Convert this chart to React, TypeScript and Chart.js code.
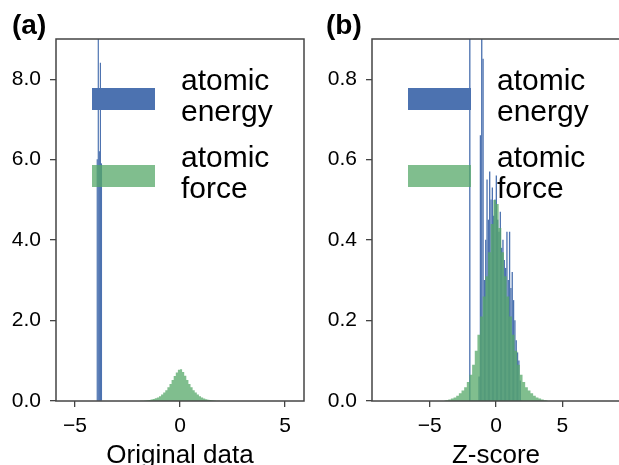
import React, { useEffect, useRef } from 'react';
import { Chart, registerables } from 'chart.js';

Chart.register(...registerables);

// ---------------- Data ----------------
// Panel (a): original data
const energyBinsA = [-3.925, -3.875, -3.825, -3.775, -3.725];
const energyDensityA = [6.0, 9.6, 6.2, 8.4, 5.9];

const forceBinsA = [
  -1.95, -1.85, -1.75, -1.65, -1.55, -1.45, -1.35, -1.25, -1.15, -1.05,
  -0.95, -0.85, -0.75, -0.65, -0.55, -0.45, -0.35, -0.25, -0.15, -0.05,
  0.05, 0.15, 0.25, 0.35, 0.45, 0.55, 0.65, 0.75, 0.85, 0.95,
  1.05, 1.15, 1.25, 1.35, 1.45, 1.55, 1.65, 1.75, 1.85, 1.95,
];
const forceDensityA = [
  0.002, 0.004, 0.007, 0.011, 0.017, 0.025, 0.035, 0.048, 0.066, 0.09,
  0.12, 0.16, 0.21, 0.27, 0.34, 0.42, 0.52, 0.62, 0.71, 0.78,
  0.79, 0.72, 0.63, 0.52, 0.42, 0.34, 0.27, 0.21, 0.16, 0.12,
  0.088, 0.064, 0.046, 0.033, 0.024, 0.016, 0.01, 0.006, 0.004, 0.002,
];

// Panel (b): Z-score
const energyBinsB = [
  -1.95, -1.85, -1.75, -1.65, -1.55, -1.45, -1.35, -1.25, -1.15, -1.05,
  -0.95, -0.85, -0.75, -0.65, -0.55, -0.45, -0.35, -0.25, -0.15, -0.05,
  0.05, 0.15, 0.25, 0.35, 0.45, 0.55, 0.65, 0.75, 0.85, 0.95,
  1.05, 1.15, 1.25, 1.35, 1.45, 1.55, 1.65, 1.75, 1.85, 1.95,
];
const energyDensityB = [
  0.95, 0, 0, 0, 0, 0, 0, 0.06, 0.66, 0.97,
  0.85, 0.3, 0.4, 0.55, 0.45, 0.57, 0.5, 0.53, 0.46, 0.5,
  0.56, 0.45, 0.42, 0.47, 0.38, 0.4, 0.35, 0.33, 0.42, 0.3,
  0.42, 0.28, 0.32, 0.25, 0.2, 0.15, 0.12, 0.1, 0.05, 0.0,
];

const forceBinsB = [
  -3.9, -3.7, -3.5, -3.3, -3.1, -2.9, -2.7, -2.5, -2.3, -2.1,
  -1.9, -1.7, -1.5, -1.3, -1.1, -0.9, -0.7, -0.5, -0.3, -0.1,
  0.1, 0.3, 0.5, 0.7, 0.9, 1.1, 1.3, 1.5, 1.7, 1.9,
  2.1, 2.3, 2.5, 2.7, 2.9, 3.1, 3.3, 3.5, 3.7, 3.9,
];
const forceDensityB = [
  0.001, 0.002, 0.004, 0.006, 0.009, 0.013, 0.019, 0.026, 0.034, 0.047,
  0.065, 0.09, 0.125, 0.165, 0.21, 0.26, 0.31, 0.37, 0.44, 0.5,
  0.49, 0.43, 0.37, 0.31, 0.26, 0.21, 0.165, 0.125, 0.09, 0.065,
  0.047, 0.034, 0.026, 0.019, 0.013, 0.009, 0.006, 0.004, 0.002, 0.001,
];

const xTicks = [-5, 0, 5];
const yTicksA = [0, 2, 4, 6, 8];
const yTicksB = [0, 0.2, 0.4, 0.6, 0.8];
const seriesLabels = ['atomic\nenergy', 'atomic\nforce'];
const panelLabels = ['(a)', '(b)'];
const axisTitles = ['Original data', 'Z-score'];

// ---------------- Styling ----------------
const FONT = '"Liberation Sans", Arial, Helvetica, sans-serif';
const BLUE = 'rgb(76,114,176)';
const GREEN = 'rgba(85,168,104,0.75)';
const SPINE = '#444444';

Chart.defaults.font.family = FONT;
Chart.defaults.color = '#000';

const mplLegend = {
  id: 'mplLegend',
  afterDraw(chart: any) {
    const { ctx, chartArea } = chart;
    ctx.save();
    chart.data.datasets.forEach((ds: any, i: number) => {
      const top = chartArea.top + 49 + i * 77;
      ctx.fillStyle = ds.backgroundColor;
      ctx.fillRect(chartArea.left + 36, top, 63, 22);
      ctx.fillStyle = '#000';
      ctx.font = `30px ${FONT}`;
      ctx.textBaseline = 'alphabetic';
      ctx.textAlign = 'left';
      String(ds.label)
        .split('\n')
        .forEach((ln: string, j: number) => {
          ctx.fillText(ln, chartArea.left + 125, top + 2 + j * 30.7);
        });
    });
    ctx.restore();
  },
};

const spines = {
  id: 'spines',
  afterDatasetsDraw(chart: any) {
    const { ctx, chartArea } = chart;
    ctx.save();
    ctx.strokeStyle = SPINE;
    ctx.lineWidth = 1.5;
    ctx.strokeRect(chartArea.left, chartArea.top, chartArea.right - chartArea.left, chartArea.bottom - chartArea.top);
    ctx.restore();
  },
};

const panelLabel = {
  id: 'panelLabel',
  afterDraw(chart: any, _args: any, opts: any) {
    const { ctx } = chart;
    ctx.save();
    ctx.fillStyle = '#000';
    ctx.font = `bold 28px ${FONT}`;
    ctx.textBaseline = 'alphabetic';
    ctx.textAlign = 'left';
    ctx.fillText(opts.text, opts.x, opts.y);
    ctx.restore();
  },
};

const minusFmt = (v: number) => (v < 0 ? '\u2212' + Math.abs(v) : String(v));

function makeConfig(p: {
  eBins: number[]; eDens: number[]; fBins: number[]; fDens: number[];
  xRange: number; yMax: number; yTicks: number[]; yAxisWidth: number;
  padRight: number; label: string; labelX: number; title: string;
}) {
  return {
    type: 'bar' as const,
    data: {
      datasets: [
        {
          type: 'bar',
          label: seriesLabels[0],
          data: p.eBins.map((x, i) => ({ x, y: p.eDens[i] })),
          xAxisID: 'xe',
          backgroundColor: BLUE,
          barPercentage: 1,
          categoryPercentage: 1,
          borderWidth: 0,
          order: 1,
        },
        {
          type: 'line',
          label: seriesLabels[1],
          data: p.fBins.map((x, i) => ({ x, y: p.fDens[i] })),
          xAxisID: 'x',
          backgroundColor: GREEN,
          borderColor: 'rgba(0,0,0,0)',
          borderWidth: 0,
          pointRadius: 0,
          stepped: 'middle',
          fill: 'origin',
          order: 0,
        },
      ],
    },
    options: {
      responsive: false,
      maintainAspectRatio: false,
      animation: false,
      events: [],
      layout: { padding: { left: 0, top: 39, right: p.padRight, bottom: 0 } },
      plugins: {
        legend: { display: false },
        tooltip: { enabled: false },
        panelLabel: { text: p.label, x: p.labelX, y: 34 },
      },
      scales: {
        x: {
          type: 'linear',
          min: -p.xRange,
          max: p.xRange,
          offset: false,
          afterBuildTicks: (s: any) => {
            s.ticks = xTicks.map((v) => ({ value: v }));
          },
          afterFit: (s: any) => {
            s.height = 64;
          },
          ticks: {
            font: { size: 21 },
            color: '#000',
            padding: 7,
            maxRotation: 0,
            callback: (v: any) => minusFmt(Number(v)),
          },
          grid: { drawOnChartArea: false, offset: false, tickLength: 6, color: SPINE, lineWidth: 1.3 },
          border: { display: false },
          title: {
            display: true,
            text: p.title,
            color: '#000',
            font: { size: 26, lineHeight: 1 },
            padding: { top: 0, bottom: -4 },
          },
        },
        xe: {
          type: 'linear',
          display: false,
          min: -p.xRange,
          max: p.xRange,
          offset: false,
          grid: { offset: false },
        },
        y: {
          type: 'linear',
          min: 0,
          max: p.yMax,
          afterBuildTicks: (s: any) => {
            s.ticks = p.yTicks.map((v) => ({ value: v }));
          },
          afterFit: (s: any) => {
            s.width = p.yAxisWidth;
          },
          ticks: {
            font: { size: 21 },
            color: '#000',
            padding: 9,
            callback: (v: any) => Number(v).toFixed(1),
          },
          grid: { drawOnChartArea: false, tickLength: 6, color: SPINE, lineWidth: 1.3 },
          border: { display: false },
        },
      },
    },
    plugins: [spines, mplLegend, panelLabel],
  };
}

function Panel(props: { cfg: any; left: number; width: number }) {
  const ref = useRef<HTMLCanvasElement | null>(null);
  useEffect(() => {
    if (!ref.current) return;
    const chart = new Chart(ref.current, props.cfg);
    return () => chart.destroy();
  }, []);
  return (
    <canvas
      ref={ref}
      width={props.width}
      height={465}
      style={{ position: 'absolute', left: props.left, top: 0, width: props.width, height: 465 }}
    />
  );
}

export default function App() {
  const cfgA = makeConfig({
    eBins: energyBinsA, eDens: energyDensityA, fBins: forceBinsA, fDens: forceDensityA,
    xRange: 5.9, yMax: 9.0, yTicks: yTicksA, yAxisWidth: 56, padRight: 6,
    label: panelLabels[0], labelX: 12, title: axisTitles[0],
  });
  const cfgB = makeConfig({
    eBins: energyBinsB, eDens: energyDensityB, fBins: forceBinsB, fDens: forceDensityB,
    xRange: 9.35, yMax: 0.9, yTicks: yTicksB, yAxisWidth: 62, padRight: 2,
    label: panelLabels[1], labelX: 16, title: axisTitles[1],
  });
  return (
    <div
      style={{
        position: 'fixed', left: 0, top: 0, width: 619, height: 465,
        overflow: 'hidden', background: '#fff',
      }}
    >
      <Panel cfg={cfgA} left={0} width={310} />
      <Panel cfg={cfgB} left={310} width={312} />
    </div>
  );
}
